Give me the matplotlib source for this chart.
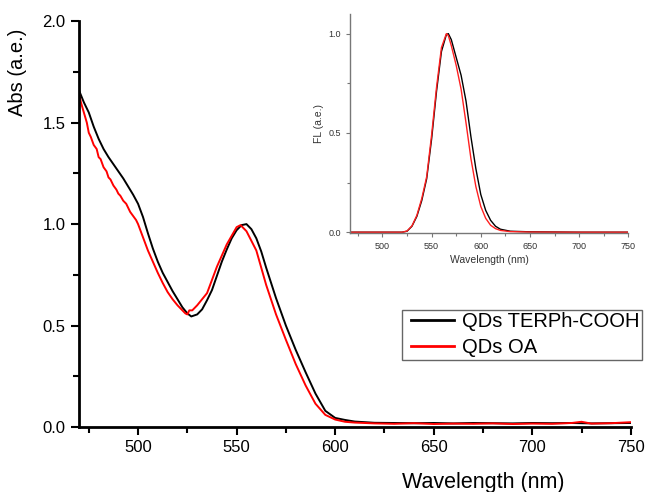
import matplotlib.pyplot as plt
from matplotlib.ticker import MultipleLocator
from matplotlib.legend_handler import HandlerLine2D

plt.rcParams['font.family'] = ['Liberation Sans', 'DejaVu Sans']

# Absorbance, QDs TERPh-COOH (black)
abs_wl_terph = [470, 472.5, 475, 477.5, 480, 482.5, 485, 487.5, 490, 492.5, 495, 497.5,
                500, 502.5, 505, 507.5, 510, 512.5, 515, 517.5, 520, 522.5, 525, 527,
                530, 532.5, 535, 537.5, 540, 542.5, 545, 547.5, 550, 552.5, 555, 557.5,
                560, 562.5, 565, 567.5, 570, 575, 580, 585, 590, 595, 600, 605, 610,
                620, 630, 640, 650, 660, 670, 680, 690, 700, 710, 720, 730, 740, 750]
abs_terph = [1.66, 1.60, 1.55, 1.48, 1.42, 1.37, 1.33, 1.295, 1.26, 1.225, 1.185, 1.145,
             1.10, 1.035, 0.955, 0.88, 0.815, 0.76, 0.715, 0.67, 0.63, 0.59, 0.56, 0.545,
             0.555, 0.58, 0.625, 0.675, 0.745, 0.815, 0.875, 0.93, 0.97, 0.995, 1.0, 0.975,
             0.93, 0.865, 0.785, 0.71, 0.635, 0.50, 0.38, 0.27, 0.165, 0.08, 0.045, 0.035, 0.027,
             0.021, 0.02, 0.019, 0.02, 0.018, 0.02, 0.019, 0.018, 0.02, 0.019, 0.02, 0.018, 0.019, 0.02]

# Absorbance, QDs OA (red)
abs_wl_oa = [470, 471, 472.5, 474, 475, 476, 477.5, 479, 480, 481, 482.5, 484, 485, 486,
             487.5, 489, 490, 491, 492.5, 494, 495, 496, 497.5, 499, 500, 502.5, 505,
             507.5, 510, 512.5, 515, 517.5, 520, 522.5, 524, 525, 526, 527.5, 529, 530,
             535, 540, 545, 550, 552, 555, 560, 565, 570, 575, 580, 585, 590, 595, 600,
             605, 610, 620, 630, 640, 650, 660, 670, 680, 690, 700, 710, 720, 725, 730, 740, 750]
abs_oa = [1.65, 1.60, 1.55, 1.50, 1.45, 1.43, 1.39, 1.37, 1.33, 1.32, 1.28, 1.26, 1.23, 1.22,
          1.19, 1.17, 1.15, 1.14, 1.115, 1.10, 1.08, 1.06, 1.04, 1.02, 1.00, 0.935, 0.87,
          0.815, 0.76, 0.71, 0.665, 0.63, 0.60, 0.575, 0.56, 0.555, 0.575, 0.575, 0.59, 0.60,
          0.66, 0.79, 0.90, 0.985, 0.995, 0.965, 0.87, 0.70, 0.555, 0.43, 0.31, 0.205, 0.115, 0.06, 0.037,
          0.026, 0.022, 0.018, 0.016, 0.019, 0.015, 0.017, 0.016, 0.018, 0.015, 0.017, 0.016, 0.02, 0.026, 0.017, 0.019, 0.024]

# Fluorescence (inset)
fl_wl = [467, 500, 520, 525, 530, 535, 540, 545, 550, 555, 560, 565, 567, 570, 575, 580,
         585, 590, 595, 600, 605, 610, 615, 620, 630, 650, 700, 750]
fl_terph = [0.0, 0.0, 0.0, 0.005, 0.03, 0.08, 0.16, 0.27, 0.47, 0.71, 0.91, 0.995, 1.0, 0.97,
            0.88, 0.79, 0.66, 0.48, 0.32, 0.19, 0.11, 0.06, 0.03, 0.015, 0.005, 0.002, 0.0, 0.0]
fl_oa = [0.0, 0.0, 0.0, 0.006, 0.032, 0.085, 0.17, 0.28, 0.49, 0.73, 0.93, 1.0, 0.99, 0.94,
         0.84, 0.72, 0.55, 0.37, 0.23, 0.13, 0.07, 0.035, 0.018, 0.009, 0.003, 0.001, 0.0, 0.0]

fig = plt.figure(figsize=(6.47, 4.92), dpi=100)
ax = fig.add_axes([0.122, 0.132, 0.853, 0.825])

ax.plot(abs_wl_terph, abs_terph, color='black', lw=1.4, label='QDs TERPh-COOH')
ax.plot(abs_wl_oa, abs_oa, color='red', lw=1.4, label='QDs OA')
ax.set_xlim(470, 750)
ax.set_ylim(0, 2.0)
ax.xaxis.set_major_locator(MultipleLocator(50))
ax.xaxis.set_minor_locator(MultipleLocator(25))
ax.yaxis.set_major_locator(MultipleLocator(0.5))
ax.yaxis.set_minor_locator(MultipleLocator(0.25))
ax.yaxis.set_major_formatter(plt.FormatStrFormatter('%.1f'))
for s in ['top', 'right']:
    ax.spines[s].set_visible(False)
for s in ['left', 'bottom']:
    ax.spines[s].set_linewidth(2)
ax.tick_params(which='major', direction='out', length=6, width=1.5, labelsize=12)
ax.tick_params(which='minor', direction='out', length=4, width=1.5)
ax.set_xlabel('Wavelength (nm)', fontsize=15.5)
ax.set_ylabel('Abs (a.e.)', fontsize=14.5)
ax.xaxis.set_label_coords(0.732, -0.111)
ax.yaxis.set_label_coords(-0.094, 0.874)

leg = ax.legend(loc='upper left', bbox_to_anchor=(0.621, 0.370), bbox_transform=fig.transFigure,
                fontsize=14.5, frameon=True, fancybox=False, borderaxespad=0,
                handlelength=2.45, handletextpad=0.43, borderpad=0.12, labelspacing=0.35,
                handler_map={plt.Line2D: HandlerLine2D(xpad=0.35)})
leg.get_frame().set_edgecolor('#404040')
leg.get_frame().set_linewidth(1)
for line in leg.get_lines():
    line.set_linewidth(2)

# Inset
axi = fig.add_axes([0.541, 0.526, 0.430, 0.446])
axi.plot(fl_wl, fl_terph, color='black', lw=1.0)
axi.plot(fl_wl, fl_oa, color='#ff2020', lw=1.0)
axi.set_xlim(467, 750)
axi.set_ylim(-0.005, 1.1)
axi.xaxis.set_major_locator(MultipleLocator(50))
axi.xaxis.set_minor_locator(MultipleLocator(25))
axi.yaxis.set_major_locator(MultipleLocator(0.5))
axi.yaxis.set_minor_locator(MultipleLocator(0.25))
axi.yaxis.set_major_formatter(plt.FormatStrFormatter('%.1f'))
for s in ['top', 'right']:
    axi.spines[s].set_visible(False)
for s in ['left', 'bottom']:
    axi.spines[s].set_linewidth(1)
    axi.spines[s].set_color('#777777')
axi.tick_params(which='major', direction='out', length=3, width=0.8, labelsize=6.5,
                colors='#777777', labelcolor='#333333')
axi.tick_params(which='minor', direction='out', length=2, width=0.8, colors='#777777')
axi.set_xlabel('Wavelength (nm)', fontsize=7.5, color='#333333', labelpad=3)
axi.set_ylabel('FL (a.e.)', fontsize=7.5, color='#333333', labelpad=3)

fig.savefig('out.png', dpi=100)
